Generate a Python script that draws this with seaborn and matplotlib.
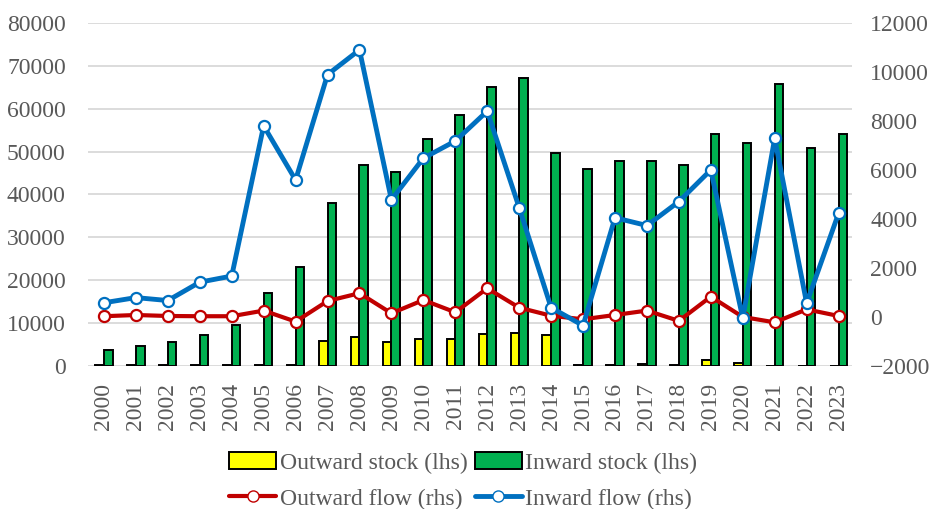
import matplotlib
matplotlib.use("Agg")
import matplotlib.pyplot as plt
from matplotlib.patches import Patch
from matplotlib.lines import Line2D
import numpy as np
import pandas as pd
import seaborn as sns

years = list(range(2000, 2024))
outward_stock = [150, 150, 150, 150, 150, 300, 200, 5900, 6800, 5700, 6400, 6300,
                 7500, 7800, 7200, 300, 300, 500, 300, 1500, 700, 0, 0, 0]
inward_stock = [3800, 4600, 5700, 7200, 9500, 16900, 23000, 38000, 46900, 45200, 52900, 58500,
                65000, 67200, 49700, 45900, 47800, 47800, 46900, 54100, 52000, 65800, 50800, 54100]
outward_flow = [30, 80, 40, 30, 30, 260, -190, 650, 970, 150, 690, 190,
                1170, 380, 50, -95, 80, 260, -160, 830, 0, -220, 310, 40]
inward_flow = [580, 790, 670, 1420, 1670, 7800, 5590, 9890, 10900, 4780, 6480, 7180,
               8400, 4460, 380, -350, 4050, 3730, 4710, 6000, -50, 7290, 560, 4230]

GREY = "#595959"
YELLOW = "#FFFF00"
GREEN = "#00B050"
RED = "#C00000"
BLUE = "#0070C0"

sns.set_style("white")
plt.rcParams["font.family"] = ["Liberation Serif", "DejaVu Serif"]
plt.rcParams["font.size"] = 17

stock = pd.DataFrame({
    "year": [str(y) for y in years] * 2,
    "value": outward_stock + inward_stock,
    "series": ["Outward stock (lhs)"] * len(years) + ["Inward stock (lhs)"] * len(years),
})

fig = plt.figure(figsize=(9.34, 5.09), dpi=100)
ax = fig.add_axes([0.0942, 0.281, 0.818, 0.674])

sns.barplot(data=stock, x="year", y="value", hue="series",
            palette=[YELLOW, GREEN], saturation=1, width=0.54,
            edgecolor="black", linewidth=1.4, legend=False, ax=ax, zorder=2)

ax.set_ylim(0, 80000)
ax.set_yticks(np.arange(0, 80001, 10000))
ax.set_xlim(-0.5, 23.42)
ax.grid(axis="y", color="#D9D9D9", linewidth=1.3, zorder=0)
ax.set_axisbelow(True)
ax.set_xlabel("")
ax.set_ylabel("")
ax.tick_params(axis="y", length=0, pad=16, labelcolor=GREY, labelsize=17)
ax.tick_params(axis="x", length=0, pad=12, labelcolor=GREY, labelsize=17, rotation=90)
for s in ax.spines.values():
    s.set_visible(False)

ax2 = ax.twinx()
pos = np.arange(len(years))
flows = pd.DataFrame({"pos": pos, "out": outward_flow, "inw": inward_flow})
sns.lineplot(data=flows, x="pos", y="out", ax=ax2, color=RED, linewidth=3,
             marker="o", markersize=8, markerfacecolor="white",
             markeredgecolor=RED, markeredgewidth=1.6)
sns.lineplot(data=flows, x="pos", y="inw", ax=ax2, color=BLUE, linewidth=3.5,
             marker="o", markersize=8, markerfacecolor="white",
             markeredgecolor=BLUE, markeredgewidth=1.6)
ax2.set_ylim(-2000, 12000)
ax2.set_yticks(np.arange(-2000, 12001, 2000))
ax2.set_xlim(-0.5, 23.42)
ax2.set_xlabel("")
ax2.set_ylabel("")
ax2.tick_params(axis="y", length=0, pad=13, labelcolor=GREY, labelsize=17)
for s in ax2.spines.values():
    s.set_visible(False)

handles = [
    Patch(facecolor=YELLOW, edgecolor="black", linewidth=1.4),
    Line2D([], [], color=RED, linewidth=3, marker="o", markersize=8,
           markerfacecolor="white", markeredgecolor=RED),
    Patch(facecolor=GREEN, edgecolor="black", linewidth=1.4),
    Line2D([], [], color=BLUE, linewidth=3.5, marker="o", markersize=8,
           markerfacecolor="white", markeredgecolor=BLUE),
]
labels = ["Outward stock (lhs)", "Outward flow (rhs)", "Inward stock (lhs)", "Inward flow (rhs)"]
leg = fig.legend(handles, labels, loc="center", bbox_to_anchor=(0.496, 0.055), ncol=2,
                 frameon=False, fontsize=17, handlelength=2.0, handletextpad=0.15,
                 columnspacing=0.3, labelspacing=0.6, borderaxespad=0)
for t in leg.get_texts():
    t.set_color(GREY)

fig.savefig("out.png", dpi=100)
